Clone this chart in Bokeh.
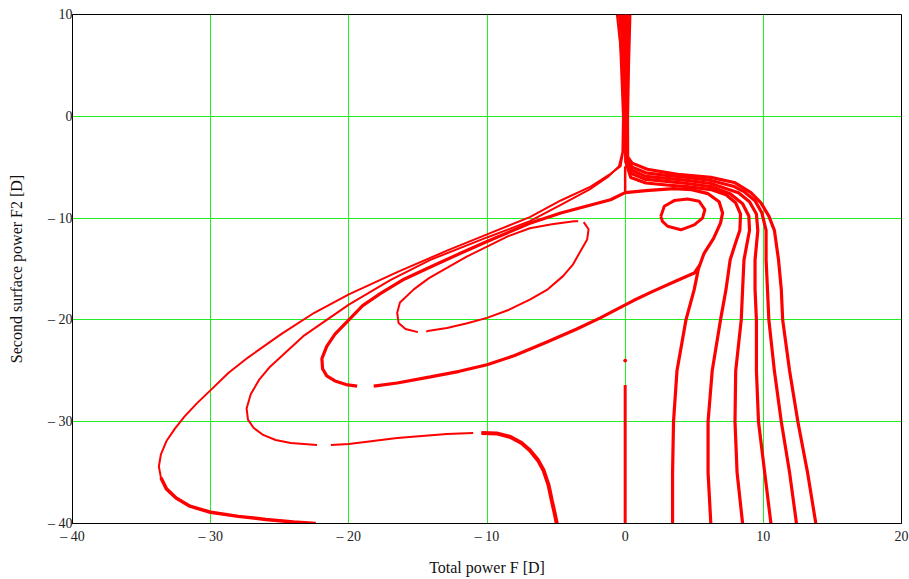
from bokeh.plotting import figure
from bokeh.models import FixedTicker, Range1d
from bokeh.embed import file_html
from bokeh.resources import INLINE

NAN = float("nan")

x_ticks = [-40, -30, -20, -10, 0, 10, 20]
y_ticks = [-40, -30, -20, -10, 0, 10]
x_title = "Total power F [D]"
y_title = "Second surface power F2 [D]"

# Curve A (outermost contour)
a_x = [-22.4, -24.0, -26.0, -28.0, -30.0, -31.5, -32.5, -33.2, -33.6, -33.75, -33.6, -33.2, -32.6, -31.9,
       -31.0, -30.0, -28.7, -27.3, -24.9, -22.5, -20.0, -16.5, -12.9, -10.0, -6.9, -4.66, -2.5, -1.06,
       -0.33, -0.15, -0.12, -0.2, -0.6]
a_y = [-40.0, -39.85, -39.6, -39.3, -38.9, -38.3, -37.5, -36.6, -35.5, -34.4, -33.2, -31.9, -30.7, -29.5,
       -28.2, -26.9, -25.2, -23.7, -21.4, -19.3, -17.5, -15.3, -13.2, -11.6, -9.9, -8.27, -6.9, -5.65,
       -4.9, -3.5, 0.0, 5.0, 10.0]

# Curve B
b_x = [-0.45, -0.16, -0.2, -0.45, -1.2, -2.6, -4.66, -6.9, -10.0, -14.1, -17.0, -20.0, -23.3, -25.7, -26.5,
       -27.1, -27.4, -27.3, -26.9, -26.2, -25.3, -24.2, -22.3, NAN, -21.3, -20.0, -16.5, -12.9, -11.0, NAN,
       -10.4, -9.3, -8.3, -7.5, -6.9, -6.3, -5.9, -5.55, -5.3, -5.1, -4.95]
b_y = [10.0, 0.0, -3.5, -4.9, -5.9, -7.2, -8.7, -10.3, -11.9, -14.1, -16.1, -18.5, -21.6, -24.6, -25.9,
       -27.3, -28.7, -29.8, -30.6, -31.3, -31.8, -32.1, -32.3, NAN, -32.3, -32.2, -31.6, -31.2, -31.1, NAN,
       -31.1, -31.15, -31.5, -32.1, -32.8, -33.8, -34.8, -36.2, -37.8, -39.0, -40.0]

# Curve C: rises from the bottom, wraps the small loop, sweeps far left and comes back
c_x = [3.43, 3.43, 3.5, 3.75, 4.4, 5.0, 5.3, 5.7, 6.4, 6.9, 7.05, 6.8, 6.0, 4.8, 3.5, 1.5, 0.0, -1.06,
       -4.66, -6.9, -10.0, -12.0, -14.1, -16.0, -17.7, -19.0, -20.0, -21.0, -21.6, -21.95, -21.9, -21.6,
       -21.0, -20.2, -19.4, NAN, -18.2, -16.5, -14.1, -12.0, -10.0, -8.0, -5.7, -3.5, -1.8, 0.6, 2.0, 3.8,
       5.0, 5.4]
c_y = [-40.0, -35.0, -30.0, -25.0, -20.0, -17.0, -15.0, -13.5, -12.0, -10.5, -9.5, -8.4, -7.6, -7.2, -7.1,
       -7.3, -7.5, -8.2, -9.5, -10.5, -12.3, -13.5, -14.8, -16.0, -17.4, -18.6, -20.0, -21.4, -22.6, -23.8,
       -24.8, -25.5, -26.0, -26.35, -26.5, NAN, -26.5, -26.2, -25.6, -25.05, -24.4, -23.5, -22.2, -20.9,
       -19.8, -18.1, -17.2, -16.1, -15.4, -14.6]

# Inner ellipse E
e_x = [-3.4, -3.7, -5.3, -6.9, -8.5, -10.0, -11.5, -12.9, -14.2, -15.3, -16.3, -16.5, -16.4, -15.9, -15.0,
       NAN, -14.4, -14.3, -12.9, -11.5, -10.0, -8.4, -6.9, -5.6, -4.5, -3.8, -3.3, -2.75, -2.65, -3.0]
e_y = [-10.3, -10.3, -10.6, -11.0, -11.8, -12.8, -13.8, -14.9, -15.9, -17.0, -18.3, -19.3, -20.3, -20.9,
       -21.2, NAN, -21.15, -21.1, -20.8, -20.35, -19.8, -19.0, -18.0, -17.0, -15.7, -14.6, -13.4, -12.1,
       -11.1, -10.4]

# Small loop near (4, -10)
s_x = [2.58, 2.83, 3.55, 4.52, 5.36, 5.77, 5.6, 5.0, 4.03, 3.07, 2.7, 2.58]
s_y = [-9.83, -8.84, -8.28, -8.12, -8.35, -9.17, -10.0, -10.66, -11.15, -10.8, -10.33, -9.83]

# Right-hand contours (bottom -> knee -> band -> junction -> top)
r2_x = [6.2, 6.0, 6.0, 6.3, 6.9, 7.3, 7.6, 8.0, 8.3, 8.35, 8.0, 7.3, 6.2, 4.5, 3.0, 1.5, 0.4, 0.05, 0.0, -0.3]
r2_y = [-40.0, -35.0, -30.0, -25.0, -20.0, -17.0, -14.1, -12.4, -11.2, -9.6, -8.5, -7.7, -7.2, -6.9, -6.75,
        -6.55, -6.0, -4.5, 0.0, 10.0]
r3_x = [8.5, 8.1, 7.95, 8.0, 8.4, 8.5, 8.6, 9.0, 8.95, 8.5, 7.6, 6.2, 4.5, 3.0, 1.5, 0.4, 0.06, 0.03, -0.15]
r3_y = [-40.0, -35.0, -30.0, -25.0, -20.0, -17.0, -14.1, -11.2, -9.8, -8.6, -7.6, -6.9, -6.6, -6.4, -6.2,
        -5.6, -4.4, 0.0, 10.0]
r4_x = [10.55, 10.1, 9.65, 9.5, 9.5, 9.4, 9.4, 9.6, 9.5, 9.0, 8.2, 6.2, 4.5, 3.0, 1.5, 0.45, 0.1, 0.07, 0.0]
r4_y = [-40.0, -35.0, -30.0, -25.0, -20.0, -17.0, -14.1, -11.2, -9.6, -8.4, -7.5, -6.6, -6.3, -6.1, -5.9,
        -5.3, -4.3, 0.0, 10.0]
r5_x = [12.4, 11.9, 11.3, 10.8, 10.4, 10.3, 10.2, 10.2, 9.9, 9.4, 8.6, 7.9, 6.2, 4.5, 3.0, 1.5, 0.5, 0.14,
        0.11, 0.15]
r5_y = [-40.0, -35.0, -30.0, -25.0, -20.0, -17.0, -14.1, -11.2, -9.5, -8.3, -7.4, -6.9, -6.3, -6.0, -5.8,
        -5.55, -5.0, -4.2, 0.0, 10.0]
r6_x = [13.8, 13.2, 12.5, 11.9, 11.4, 11.3, 11.1, 10.8, 10.4, 9.83, 9.1, 7.9, 6.2, 3.8, 1.6, 0.5, 0.18,
        0.17, 0.24, 0.34]
r6_y = [-40.0, -35.0, -30.0, -25.0, -20.0, -17.0, -14.1, -11.2, -9.8, -8.5, -7.5, -6.5, -6.0, -5.7, -5.2,
        -4.6, -4.0, 0.0, 5.0, 10.0]

# Singular line at F = 0
z_low_y = [-26.4, -40.0]
z_dot_y = [-24.0]
z_stub_y = [-4.9, -7.4]

RED = "#ff0000"
SERIF = "Liberation Serif"

p = figure(width=909, height=579, output_backend="svg", toolbar_location=None,
           x_range=Range1d(-40, 20), y_range=Range1d(-40, 10),
           min_border_left=72, min_border_right=8, min_border_top=14, min_border_bottom=56)
p.background_fill_color = "white"
p.border_fill_color = "white"
p.outline_line_color = "black"
p.outline_line_width = 1

for ax, ticks in ((p.xaxis[0], x_ticks), (p.yaxis[0], y_ticks)):
    ax.ticker = FixedTicker(ticks=ticks)
    ax.major_label_overrides = {t: ("\u2013 %d" % -t if t < 0 else "%d" % t) for t in ticks}
    ax.major_tick_line_color = None
    ax.minor_tick_line_color = None
    ax.major_tick_out = 0
    ax.major_tick_in = 0
    ax.minor_tick_out = 0
    ax.minor_tick_in = 0
    ax.axis_line_color = "black"
    ax.major_label_text_font = SERIF
    ax.major_label_text_font_size = "14px"
    ax.major_label_text_color = "#222222"
    ax.axis_label_text_font = SERIF
    ax.axis_label_text_font_size = "16px"
    ax.axis_label_text_font_style = "normal"
    ax.axis_label_text_color = "#111111"
p.xaxis.major_label_standoff = 5
p.yaxis.major_label_standoff = 0
p.xaxis.axis_label = x_title
p.yaxis.axis_label = y_title
p.xaxis.axis_label_standoff = 12
p.yaxis.axis_label_standoff = 20

for g in (p.xgrid[0], p.ygrid[0]):
    g.grid_line_color = "#22ee22"
    g.grid_line_width = 1
p.xgrid.ticker = FixedTicker(ticks=x_ticks)
p.ygrid.ticker = FixedTicker(ticks=y_ticks)

# contours
p.line(a_x, a_y, line_color=RED, line_width=2)
p.line(a_x[:9], a_y[:9], line_color=RED, line_width=3.5)
p.line(b_x, b_y, line_color=RED, line_width=2)
p.line(b_x[30:], b_y[30:], line_color=RED, line_width=4)
p.line(c_x, c_y, line_color=RED, line_width=3.2)
p.line(e_x, e_y, line_color=RED, line_width=2)
p.line(s_x, s_y, line_color=RED, line_width=3)
for rx, ry in ((r2_x, r2_y), (r3_x, r3_y), (r4_x, r4_y), (r5_x, r5_y), (r6_x, r6_y)):
    p.line(rx, ry, line_color=RED, line_width=3.2)

p.line([0, 0], z_low_y, line_color=RED, line_width=3)
p.scatter([0], z_dot_y, size=3, color=RED)
p.line([0, 0], z_stub_y, line_color=RED, line_width=2.5)

open("out.html", "w").write(file_html(p, INLINE))
